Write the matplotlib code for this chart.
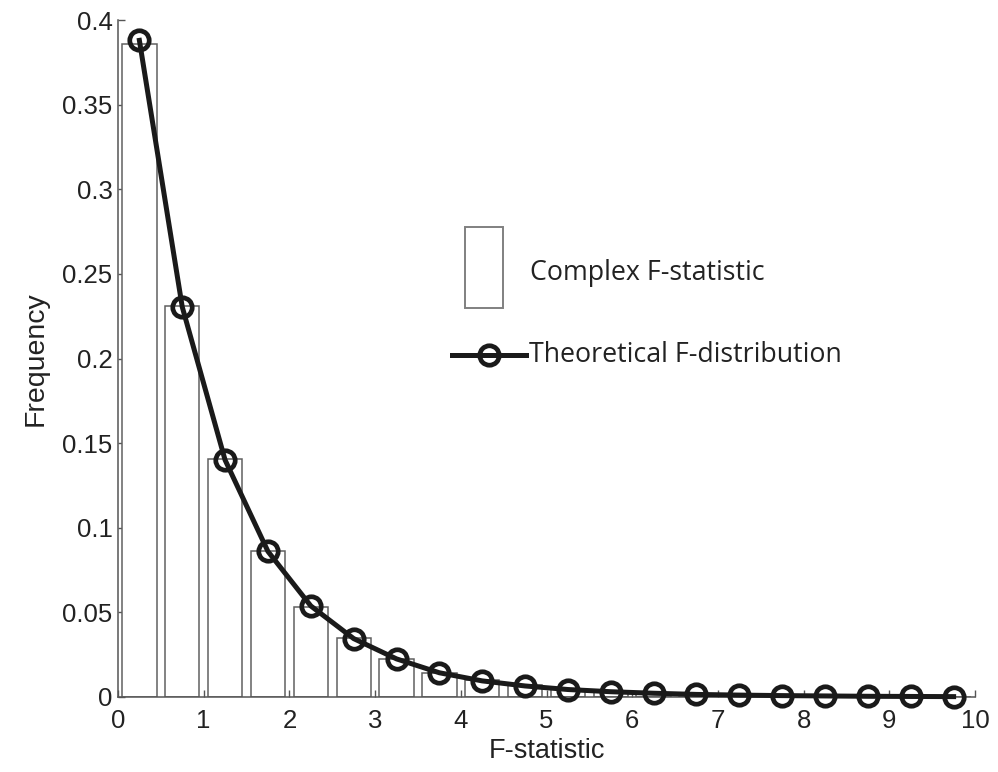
import numpy as np
import matplotlib.pyplot as plt
from matplotlib.patches import Rectangle
from matplotlib.lines import Line2D

# histogram bin centres and observed frequencies
bin_centers = [0.25, 0.75, 1.25, 1.75, 2.25, 2.75, 3.25, 3.75, 4.25, 4.75,
               5.25, 5.75, 6.25, 6.75, 7.25, 7.75, 8.25, 8.75, 9.25, 9.75]
observed = [0.386, 0.231, 0.1406, 0.0865, 0.0532, 0.0349, 0.0224, 0.0142, 0.0100, 0.0071,
            0.0045, 0.0030, 0.0020, 0.0013, 0.0008, 0.0005, 0.0004, 0.0003, 0.0002, 0.0001]
# theoretical F density at the same points
theoretical = [0.388, 0.2305, 0.140, 0.0860, 0.0538, 0.0345, 0.0225, 0.0143, 0.0095, 0.0065,
               0.0044, 0.0031, 0.0022, 0.0015, 0.0011, 0.0008, 0.0006, 0.0004, 0.0003, 0.0002]

xticks = np.arange(0, 11, 1)
yticks = [0, 0.05, 0.1, 0.15, 0.2, 0.25, 0.3, 0.35, 0.4]
ytick_labels = ['0', '0.05', '0.1', '0.15', '0.2', '0.25', '0.3', '0.35', '0.4']

plt.rcParams['font.family'] = ['Liberation Sans', 'DejaVu Sans']

fig = plt.figure(figsize=(9.98, 7.72), dpi=100)
ax = fig.add_axes([0.1182, 0.0972, 0.977 - 0.1182, 0.974 - 0.0972])

ax.bar(bin_centers, observed, width=0.4, facecolor='white', edgecolor='#606060', linewidth=1.1, zorder=2)
ax.plot(bin_centers, theoretical, color='#1a1a1a', linewidth=3.6, marker='o', markersize=14,
        markerfacecolor='none', markeredgewidth=3.4, markeredgecolor='#1a1a1a', zorder=3, clip_on=False)

ax.set_xlim(0, 10)
ax.set_ylim(0, 0.4)
ax.set_xticks(xticks)
ax.set_yticks(yticks)
ax.set_yticklabels(ytick_labels)
for s in ['top', 'right']:
    ax.spines[s].set_visible(False)
for s in ['left', 'bottom']:
    ax.spines[s].set_color('#555555')
    ax.spines[s].set_linewidth(1.1)
ax.tick_params(direction='in', length=5, width=1.0, color='#555555', labelsize=18.5, labelcolor='#222222')
ax.tick_params(axis='y', pad=4)
ax.tick_params(axis='x', pad=9)
ax.set_xlabel('F-statistic', fontsize=19.5, color='#222222', labelpad=3)
ax.set_ylabel('Frequency', fontsize=20.5, color='#222222', labelpad=10)

# legend drawn by hand
leg_font = ['Open Sans', 'DejaVu Sans']
fig.patches.append(Rectangle((465 / 998, 1 - 308 / 772), 38 / 998, 81 / 772, transform=fig.transFigure,
                             facecolor='white', edgecolor='#808080', linewidth=1.4))
fig.text(530 / 998, 1 - 273 / 772, 'Complex F-statistic', fontsize=19.3, family=leg_font,
         va='center', ha='left', color='#222222')
fig.lines.append(Line2D([452 / 998, 526 / 998], [1 - 355 / 772, 1 - 355 / 772], transform=fig.transFigure,
                        color='#1a1a1a', linewidth=3.6))
fig.lines.append(Line2D([489 / 998], [1 - 355 / 772], transform=fig.transFigure, marker='o', markersize=14,
                        markerfacecolor='none', markeredgewidth=3.4, markeredgecolor='#1a1a1a'))
fig.text(529 / 998, 1 - 355 / 772, 'Theoretical F-distribution', fontsize=19.3, family=leg_font,
         va='center', ha='left', color='#222222')

fig.savefig('out.png', dpi=100)
